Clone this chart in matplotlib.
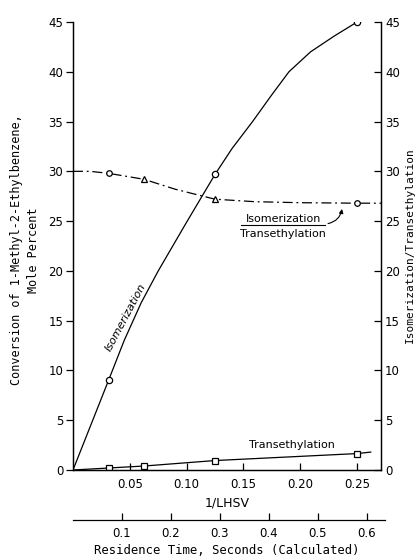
import numpy as np
import matplotlib
matplotlib.use("Agg")
import matplotlib.pyplot as plt

plt.rcParams['font.family'] = ['Liberation Sans Narrow', 'DejaVu Sans']

# data (x = 1/LHSV)
pts_x = [1/32, 1/16, 1/8, 1/4]
isom_pts = [9.0, None, 29.7, 45.0]
trans_pts = [0.2, 0.4, 0.95, 1.65]
ratio_pts = [29.8, 29.2, 27.2, 26.8]

# drawn curves (smooth lines through the points)
isom_cx = [0, 0.03125, 0.045, 0.06, 0.075, 0.1, 0.125, 0.14, 0.158, 0.175, 0.19, 0.209, 0.23, 0.25, 0.264]
isom_cy = [0, 9.0, 13.0, 16.8, 20.0, 24.9, 29.7, 32.3, 35.0, 37.7, 40.0, 42.0, 43.6, 45.0, 46.0]
trans_cx = [0, 0.03125, 0.0625, 0.125, 0.25, 0.262]
trans_cy = [0, 0.2, 0.4, 0.95, 1.65, 1.8]
ratio_cx = [0, 0.015, 0.03125, 0.0625, 0.09, 0.125, 0.16, 0.2, 0.25, 0.271]
ratio_cy = [30.0, 30.0, 29.8, 29.2, 28.2, 27.2, 26.95, 26.85, 26.8, 26.8]

lhsv_ticks = [0.05, 0.10, 0.15, 0.20, 0.25]
y_ticks = [0, 5, 10, 15, 20, 25, 30, 35, 40, 45]
res_ticks = [0.1, 0.2, 0.3, 0.4, 0.5, 0.6]

fig = plt.figure(figsize=(4.19, 5.59), dpi=100)
ax = fig.add_axes([73/419, 1 - 470/559, 308/419, 448/559])

ax.plot(isom_cx, isom_cy, color='black', lw=0.9)
ax.plot(trans_cx, trans_cy, color='black', lw=0.9)
ax.plot(ratio_cx, ratio_cy, color='black', lw=0.9, linestyle=(0, (8, 3, 1.5, 3)))

for x, y in zip(pts_x, isom_pts):
    if y is not None:
        ax.plot(x, y, 'o', ms=4.5, mfc='white', mec='black', mew=0.9)
for x, y in zip(pts_x, trans_pts):
    ax.plot(x, y, 's', ms=4, mfc='white', mec='black', mew=0.9)
mk = ['o', '^', '^', 'o']
for x, y, m in zip(pts_x, ratio_pts, mk):
    ax.plot(x, y, m, ms=4, mfc='white', mec='black', mew=0.9)

ax.set_xlim(0, 0.271)
ax.set_ylim(0, 45)
ax.spines['top'].set_visible(False)
ax.set_xticks(lhsv_ticks)
ax.set_xticklabels(['%.2f' % t for t in lhsv_ticks], fontsize=8.5)
ax.set_yticks(y_ticks)
ax.set_yticklabels([str(t) for t in y_ticks], fontsize=8.5)
ax.tick_params(axis='x', direction='in', length=5, pad=6, width=0.9)
ax.tick_params(axis='y', direction='out', length=5, pad=2, width=0.9)
ax.set_xlabel('1/LHSV', fontsize=9, labelpad=4)

# left axis title, two lines
fig.text(25/419, 1 - 250/559, 'Conversion of 1-Methyl-2-Ethylbenzene,\nMole Percent',
         rotation=90, fontsize=8.5, family='DejaVu Sans Mono', ha='center',
         va='center', linespacing=1.4, multialignment='center')

ax_r = ax.twinx()
ax_r.set_ylim(0, 45)
ax_r.set_yticks(y_ticks)
ax_r.set_yticklabels([str(t) for t in y_ticks], fontsize=8.5)
ax_r.tick_params(axis='y', direction='in', length=5, pad=3, width=0.9)
ax_r.spines['top'].set_visible(False)
fig.text(410/419, 1 - 245/559, 'Isomerization/Transethylation', rotation=90,
         fontsize=8, family='DejaVu Sans Mono', ha='center', va='center')

for s in ['left', 'bottom', 'right']:
    ax.spines[s].set_linewidth(0.9)
    ax_r.spines[s].set_linewidth(0.9)

# labels on the curves
ax.text(0.046, 15.3, 'Isomerization', rotation=62, fontsize=8, style='italic',
        ha='center', va='center')
ax.text(0.193, 2.5, 'Transethylation', fontsize=8, ha='center', va='center')
ax.text(0.185, 25.2, 'Isomerization', fontsize=8, ha='center', va='center')
ax.text(0.185, 23.7, 'Transethylation', fontsize=8, ha='center', va='center')
ax.plot([0.148, 0.222], [24.6, 24.6], color='black', lw=0.8)
ax.annotate('', xy=(0.237, 26.5), xytext=(0.222, 24.7),
            arrowprops=dict(arrowstyle='-|>', color='black', lw=0.8,
                            mutation_scale=6, connectionstyle='arc3,rad=0.4'))

# residence time scale
ax2 = fig.add_axes([73/419, 1 - 520/559, 312/419, 0.001])
ax2.set_xlim(0, 0.637)
ax2.set_yticks([])
for s in ['left', 'right', 'top']:
    ax2.spines[s].set_visible(False)
ax2.spines['bottom'].set_linewidth(0.9)
ax2.set_xticks(res_ticks)
ax2.set_xticklabels(['%.1f' % t for t in res_ticks], fontsize=8.5)
ax2.tick_params(axis='x', direction='in', length=5, pad=5, width=0.9)
fig.text(227/419, 1 - 551/559, 'Residence Time, Seconds (Calculated)', fontsize=8.8,
         family='DejaVu Sans Mono', ha='center', va='center')

fig.savefig('out.png', dpi=100)
